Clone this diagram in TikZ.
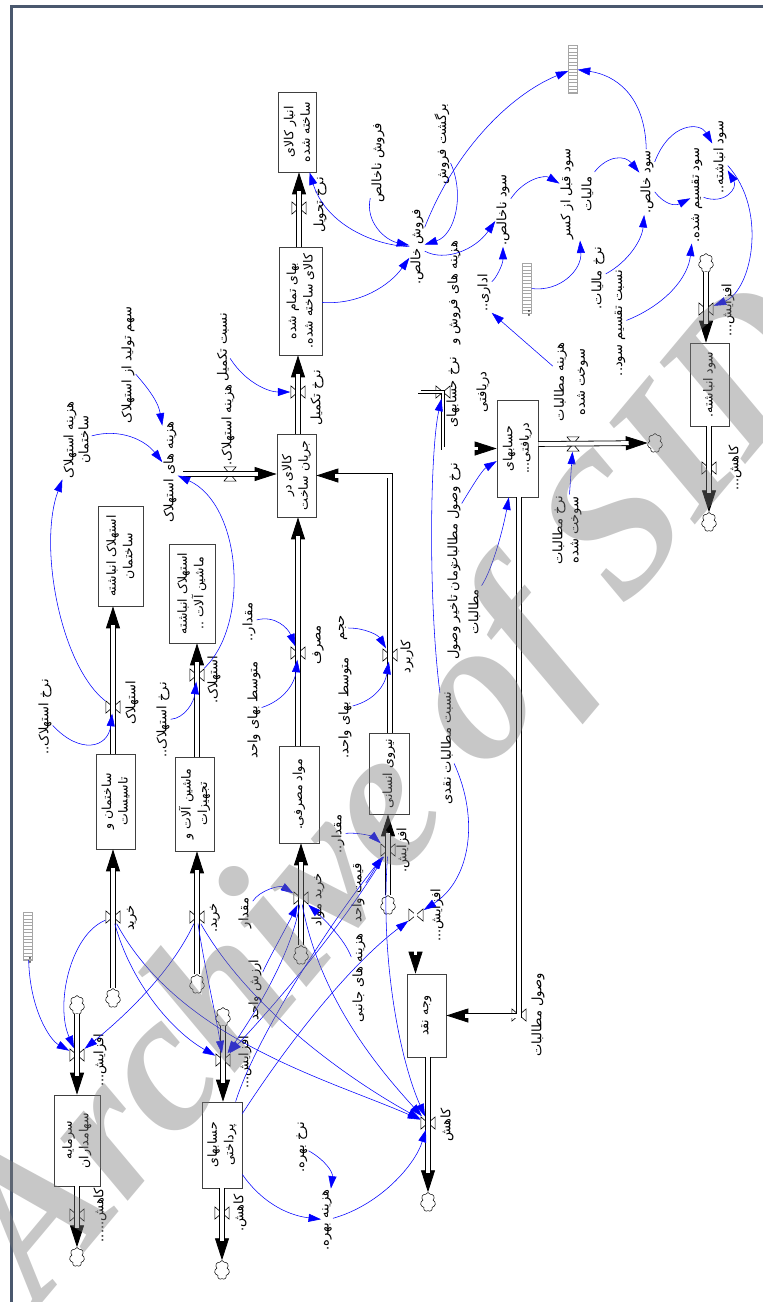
\documentclass[tikz,border=0pt]{standalone}
\usepackage{fontspec}
\newfontfamily\farsi[Script=Arabic]{DejaVu Sans}
\newfontfamily\wmfont{Liberation Serif}
\TeXXeTstate=1
\usetikzlibrary{arrows.meta,shapes.symbols}
\definecolor{framec}{RGB}{74,88,110}
\newcommand\fa[1]{\beginR#1\endR}
\newcommand\pipeto[2][pipe]{\draw[pipetip] #2; \draw[#1, shorten >=19pt] #2;}

\tikzset{
  stock/.style={draw=black!75, line width=0.7pt, rotate=90, inner sep=1pt, align=center,
    font=\farsi\fontsize{12.5}{16.5}\selectfont},
  aux/.style={rotate=90, inner sep=1pt, align=center, font=\farsi\fontsize{13}{21}\selectfont},
  pipe/.style={draw=black, line width=0.8pt, double=white, double distance=4pt},
  npipe/.style={pipe, line width=0.6pt, double distance=2.2pt},
  pipetip/.style={draw=black, line width=0.8pt, -{Triangle[length=22pt,width=14pt]}},
  link/.style={draw=blue, line width=0.55pt, -{Triangle[length=12.5pt,width=8pt]}},
  valv/.style={minimum width=15pt, minimum height=13pt, inner sep=0pt,
    path picture={\draw[line width=0.6pt]
      ([shift={(0.4pt,-0.4pt)}]path picture bounding box.north west) --
      ([shift={(-0.4pt,0.4pt)}]path picture bounding box.south east) --
      ([shift={(-0.4pt,-0.4pt)}]path picture bounding box.north east) --
      ([shift={(0.4pt,0.4pt)}]path picture bounding box.south west) -- cycle;}},
  valh/.style={minimum width=13pt, minimum height=15pt, inner sep=0pt,
    path picture={\draw[line width=0.6pt]
      ([shift={(0.4pt,-0.4pt)}]path picture bounding box.north west) --
      ([shift={(-0.4pt,-0.4pt)}]path picture bounding box.north east) --
      ([shift={(0.4pt,0.4pt)}]path picture bounding box.south west) --
      ([shift={(-0.4pt,0.4pt)}]path picture bounding box.south east) -- cycle;}},
  sink/.style={cloud, cloud puffs=7, cloud ignores aspect, draw, line width=0.5pt,
    minimum width=15pt, minimum height=19pt, inner sep=0pt},
  tofu/.style={draw=gray!70, line width=0.4pt, minimum width=9pt, minimum height=#1, inner sep=0pt,
    path picture={\foreach \k in {1,...,15}{\draw[gray!70, line width=0.3pt]
      ([yshift=-\k*3.4pt]path picture bounding box.north west) --
      ([yshift=-\k*3.4pt]path picture bounding box.north east);}}},
}

\begin{document}
\begin{tikzpicture}[x=1pt, y=-1pt]
\useasboundingbox (0,0) rectangle (763,1302);
\draw[framec, line width=3pt] (11,1302) -- (11,6) -- (763,6);

% stocks
\node[stock, minimum width=80pt, minimum height=38pt] (anbar) at (297,132) {\fa{انبار کالای}\\\fa{ساخته شده}};
\node[stock, minimum width=108pt, minimum height=43pt] (bahaa) at (300.5,301) {\fa{بهای تمام شده}\\\fa{کالای ساخته شده.}};
\node[stock, minimum width=83pt, minimum height=39pt] (jarian) at (296.5,475.5) {\fa{کالای در}\\\fa{جریان ساخت}};
\node[stock, minimum width=97pt, minimum height=41pt] (daryafti) at (517.5,448.5) {\fa{حسابهای}\\\fa{دریافتی...}};
\node[stock, minimum width=83pt, minimum height=39pt] (soodanb) at (709.5,384.5) {\fa{سود انباشته.}};
\node[stock, minimum width=100pt, minimum height=45pt] (estbuild) at (120.5,556) {\fa{استهلاک انباشته}\\\fa{ساختمان}};
\node[stock, minimum width=99pt, minimum height=46pt] (estmach) at (192,593.5) {\fa{استهلاک انباشته}\\\fa{ماشین آلات ..}};
\node[stock, minimum width=95pt, minimum height=39pt] (build) at (115.5,801.5) {\fa{ساختمان و}\\\fa{تاسیسات}};
\node[stock, minimum width=94pt, minimum height=39pt] (mach) at (194.5,804) {\fa{ماشین آلات و}\\\fa{تجهیزات}};
\node[stock, minimum width=97pt, minimum height=40pt] (mavad) at (299,794.5) {\fa{مواد مصرفی.}};
\node[stock, minimum width=81pt, minimum height=40pt] (niroo) at (389,773.5) {\fa{نیروی انسانی}};
\node[stock, minimum width=83pt, minimum height=39pt] (cash) at (426.5,1015.5) {\fa{وجه نقد}};
\node[stock, minimum width=91pt, minimum height=46pt] (sarmaye) at (77,1140.5) {\fa{سرمایه}\\\fa{سهامداران}};
\node[stock, minimum width=86pt, minimum height=40pt] (pardakhti) at (222,1145) {\fa{حسابهای}\\\fa{پرداختی}};

% clouds
\node[sink] (csarin) at (77,1005) {};
\node[sink] (csarout) at (77,1257) {};
\node[sink] (cpardin) at (223,1017) {};
\node[sink] (cpardout) at (222,1270) {};
\node[sink] (cbuild) at (113,998) {};
\node[sink] (cmach) at (197,984) {};
\node[sink] (cmavad) at (301,955) {};
\node[sink] (cniroo) at (388,905) {};
\node[sink] (ccash) at (428,1202) {};
\node[sink] (csookht) at (655,443) {};
\node[sink] (csoodin) at (706,263) {};
\node[sink] (csoodout) at (709,522) {};

% valves
\node[valv] (vtahvil) at (299,208) {};
\node[valv] (vtakmil) at (298,392) {};
\node[valh] (vhazest) at (230,474) {};
\node[valv] (vkarbord) at (390,655) {};
\node[valv] (vmasraf) at (298,653) {};
\node[valv] (vmavad) at (301,898) {};
\node[valv] (vniroo) at (388,850) {};
\node[valv] (vbuild) at (113,917) {};
\node[valv] (vmach) at (197,917) {};
\node[valv] (vestb) at (113,707) {};
\node[valv] (vestm) at (197,675) {};
\node[valv] (vsarin) at (77,1055) {};
\node[valv] (vsarout) at (77,1215) {};
\node[valv] (vpardin) at (223,1060) {};
\node[valv] (vpardout) at (222,1213) {};
\node[valv] (vcashin) at (416,915) {};
\node[valv] (vcashout) at (428,1123) {};
\node[valv] (vfd) at (443,392) {};
\node[valv] (vvosool) at (519,1015) {};
\node[valh] (vsookht) at (573,444) {};
\node[valv] (vsoodin) at (706,309) {};
\node[valv] (vsoodout) at (709,468) {};
\coordinate (hazsrc) at (183,474);
\coordinate (fksrc) at (415.5,288);
\coordinate (fdsrc) at (419.5,288);

% pipes
\pipeto{(bahaa.east -| vtahvil) -- (anbar.west -| vtahvil)}
\pipeto{(jarian.east -| vtakmil) -- (bahaa.west -| vtakmil)}
\pipeto{(hazsrc) -- (jarian.north |- vhazest)}
\pipeto{(niroo.east -| vkarbord) |- (jarian.south)}
\pipeto{(mavad.east -| vmasraf) -- (jarian.west -| vmasraf)}
\pipeto{(cmavad.north) -- (mavad.west -| vmavad)}
\pipeto{(cniroo.north) -- (niroo.west -| vniroo)}
\pipeto{(cbuild.north) -- (build.west -| vbuild)}
\pipeto{(cmach.north) -- (mach.west -| vmach)}
\pipeto{(build.east -| vestb) -- (estbuild.west -| vestb)}
\pipeto{(mach.east -| vestm) -- (estmach.west -| vestm)}
\pipeto{(csarin.south) -- (sarmaye.east -| vsarin)}
\pipeto{(sarmaye.west -| vsarout) -- (csarout.north)}
\pipeto{(cpardin.south) -- (pardakhti.east -| vpardin)}
\pipeto{(pardakhti.west -| vpardout) -- (cpardout.north)}
\pipeto[npipe]{(fksrc) -- (cash.east -| fksrc)}
\pipeto[npipe]{(fdsrc) |- (vfd.center) |- (daryafti.north)}
\pipeto{(daryafti.west -| vvosool) |- (cash.south)}
\pipeto{(cash.west -| vcashout) -- (ccash.north)}
\pipeto{(daryafti.south |- vsookht) -- (csookht.west)}
\pipeto{(csoodin.south) -- (soodanb.east -| vsoodin)}
\pipeto{(soodanb.west -| vsoodout) -- (csoodout.north)}

% flow names
\node[aux] (ltahvil) at (320,205) {\fa{نرخ تحویل}};
\node[aux] (ltakmil) at (317,398) {\fa{نرخ تکمیل}};
\node[aux] (lhazest) at (228,425) {\fa{هزینه استهلاک.}};
\node[aux] (lkarbord) at (407,657) {\fa{کاربرد}};
\node[aux] (lmasraf) at (318,645) {\fa{مصرف}};
\node[aux] (lkharidm) at (318,900) {\fa{خرید مواد}};
\node[aux] (lafzn) at (403,850) {\fa{افزایش.}};
\node[aux] (lkharidb) at (132,918) {\fa{خرید}};
\node[aux] (lkharidma) at (215,918) {\fa{خرید.}};
\node[aux] (lestb) at (132,703) {\fa{استهلاک}};
\node[aux] (lestm) at (214,680) {\fa{استهلاک.}};
\node[aux] (lafzs) at (100,1060) {\fa{افزایش...}};
\node[aux] (lkahs) at (100,1215) {\fa{کاهش.....}};
\node[aux] (lafzp) at (245,1062) {\fa{افزایش...}};
\node[aux] (lkahp) at (240,1213) {\fa{کاهش.}};
\node[aux] (lafzc) at (437,915) {\fa{افزایش...}};
\node[aux] (lkahc) at (447,1125) {\fa{کاهش}};
\node[aux] (lvosool) at (538,1015) {\fa{وصول مطالبات}};
\node[aux] (lnhd) at (468,392) {\fa{نرخ حسابهای}\\[9pt]\fa{دریافتی}};
\node[aux] (lafzsood) at (728,310) {\fa{افزایش...}};
\node[aux] (lkahsood) at (735,468) {\fa{کاهش...}};

% auxiliaries
\node[aux] (fnakh) at (378,163) {\fa{فروش ناخالص}};
\node[aux] (bargasht) at (442,144) {\fa{برگشت فروش}};
\node[aux] (fkhales) at (417,247) {\fa{فروش خالص.}};
\node[aux] (snakh) at (503,210) {\fa{سود ناخالص.}};
\node[aux] (hfrsh) at (469,293) {\fa{هزینه های فروش و}\\[9pt]\fa{اداری..}};
\node[aux] (sghabl) at (577,194) {\fa{سود قبل از کسر}\\\fa{مالیات}};
\node[aux] (skhales) at (647,182) {\fa{سود خالص.}};
\node[aux] (staghsim) at (697,195) {\fa{سود تقسیم شده.}};
\node[aux] (sanbaux) at (720,157) {\fa{سود انباشته..}};
\node[tofu=48pt] (tofua) at (573,69) {};
\node[tofu=50pt, label={[aux]south:..}] (tofub) at (527,288) {};
\node[tofu=48pt, label={[aux]south:..}] (tofuc) at (28,936) {};
\node[aux] (nmaliat) at (598,278) {\fa{نرخ مالیات.}};
\node[aux] (ntaghsim) at (620,323) {\fa{نسبت تقسیم سود..}};
\node[aux] (hsookht) at (571,382) {\fa{هزینه مطالبات}\\\fa{سوخت شده}};
\node[aux] (nsookht) at (567,530) {\fa{نرخ مطالبات}\\[-5pt]\fa{سوخت شده}};
\node[aux] (nvosool) at (454,516) {\fa{نرخ وصول مطالبات}};
\node[aux] (ztakhir) at (464,612) {\fa{زمان تاخیر وصول}\\\fa{مطالبات}};
\node[aux] (nnaghdi) at (447,748) {\fa{نسبت مطالبات نقدی}};
\node[aux] (sahm) at (128,365) {\fa{سهم تولید از استهلاک}};
\node[aux] (hestb) at (77,440) {\fa{هزینه استهلاک}\\[-6pt]\fa{ساختمان}};
\node[aux] (hhest) at (170,472) {\fa{هزینه های استهلاک}};
\node[aux] (ntakmil) at (223,347) {\fa{نسبت تکمیل}};
\node[aux] (nestb) at (45,717) {\fa{نرخ استهلاک..}};
\node[aux] (nestm) at (163,720) {\fa{نرخ استهلاک..}};
\node[aux] (mqmasraf) at (249,622) {\fa{مقدار..}};
\node[aux] (mtv1) at (254,710) {\fa{متوسط بهای واحد}};
\node[aux] (hajm) at (343,628) {\fa{حجم}};
\node[aux] (mtv2) at (345,708) {\fa{متوسط بهای واحد.}};
\node[aux] (mqniroo) at (338,834) {\fa{مقدار..}};
\node[aux] (gheymat) at (358,893) {\fa{قیمت واحد}};
\node[aux] (hjanebi) at (359,978) {\fa{هزینه های جانبی}};
\node[aux] (mqmach) at (245,913) {\fa{مقدار}};
\node[aux] (arzesh) at (255,990) {\fa{ارزش واحد}};
\node[aux] (nbahre) at (302,1147) {\fa{نرخ بهره.}};
\node[aux] (hbahre) at (327,1220) {\fa{هزینه بهره.}};

% links
\draw[link] (bahaa) .. controls (360,305) and (390,285) .. (fkhales);
\draw[link] (fkhales) .. controls (370,245) and (325,222) .. (anbar);
\draw[link] (fnakh) .. controls (365,222) and (385,240) .. (fkhales);
\draw[link] (bargasht) .. controls (465,195) and (455,235) .. (fkhales);
\draw[link] (fkhales) .. controls (455,150) and (510,95) .. (tofua);
\draw[link] (fkhales) .. controls (445,262) and (475,250) .. (snakh);
\draw[link] (hfrsh) .. controls (495,280) and (503,265) .. (snakh);
\draw[link] (hsookht) -- (hfrsh);
\draw[link] (snakh) .. controls (525,178) and (545,175) .. (sghabl);
\draw[link] (tofub) .. controls (560,292) and (582,270) .. (sghabl);
\draw[link] (sghabl) .. controls (608,155) and (625,155) .. (skhales);
\draw[link] (nmaliat) .. controls (628,262) and (642,240) .. (skhales);
\draw[link] (skhales) .. controls (645,95) and (615,75) .. (tofua);
\draw[link] (skhales) .. controls (670,122) and (700,122) .. (sanbaux);
\draw[link] (skhales) .. controls (665,205) and (675,206) .. (staghsim);
\draw[link] (staghsim) .. controls (725,205) and (738,188) .. (sanbaux);
\draw[link] (sanbaux) .. controls (768,210) and (752,290) .. (vsoodin);
\draw[link] (ntaghsim) .. controls (665,305) and (688,278) .. (staghsim);
\draw[link] (sahm) .. controls (145,385) and (158,400) .. (hhest);
\draw[link] (hestb) .. controls (120,428) and (145,440) .. (hhest);
\draw[link] (vestb) .. controls (60,665) and (38,545) .. (hestb);
\draw[link] (vestm) .. controls (250,625) and (242,505) .. (hhest);
\draw[link] (nestb) .. controls (80,755) and (108,748) .. (vestb);
\draw[link] (nestm) .. controls (185,718) and (194,702) .. (vestm);
\draw[link] (ntakmil) .. controls (245,382) and (268,392) .. (vtakmil);
\draw[link] (mqmasraf) .. controls (275,615) and (288,628) .. (vmasraf);
\draw[link] (mtv1) .. controls (285,700) and (295,682) .. (vmasraf);
\draw[link] (hajm) .. controls (365,628) and (378,635) .. (vkarbord);
\draw[link] (mtv2) .. controls (375,700) and (385,685) .. (vkarbord);
\draw[link] (mqniroo) .. controls (362,832) and (375,838) .. (vniroo);
\draw[link] (nvosool) .. controls (470,490) and (482,470) .. (daryafti);
\draw[link] (ztakhir) .. controls (492,570) and (503,530) .. (daryafti);
\draw[link] (nnaghdi) .. controls (480,820) and (470,880) .. (vcashin);
\draw[link] (nnaghdi) .. controls (428,600) and (430,450) .. (vfd);
\draw[link] (nsookht) -- (vsookht);
\draw[link] (nbahre) .. controls (325,1160) and (333,1172) .. (hbahre);
\draw[link] (pardakhti) .. controls (260,1200) and (285,1215) .. (hbahre);
\draw[link] (hbahre) .. controls (380,1205) and (415,1165) .. (vcashout);
\draw[link] (pardakhti) .. controls (290,1040) and (350,965) .. (vcashin);
\draw[link] (pardakhti) .. controls (255,1040) and (325,930) .. (vniroo);
\draw[link] (tofuc) .. controls (30,1010) and (50,1040) .. (vsarin);
\draw[link] (vbuild) .. controls (70,935) and (55,1005) .. (vsarin);
\draw[link] (vmach) .. controls (170,975) and (120,1020) .. (vsarin);
\draw[link] (vbuild) .. controls (130,980) and (170,1030) .. (vpardin);
\draw[link] (vmach) .. controls (205,970) and (215,1010) .. (vpardin);
\draw[link] (vmavad) .. controls (290,960) and (250,1020) .. (vpardin);
\draw[link] (vniroo) .. controls (340,930) and (270,1010) .. (vpardin);
\draw[link] (vbuild) .. controls (180,1040) and (330,1080) .. (vcashout);
\draw[link] (vmach) .. controls (250,1010) and (350,1080) .. (vcashout);
\draw[link] (vmavad) .. controls (320,1000) and (380,1070) .. (vcashout);
\draw[link] (vniroo) .. controls (380,960) and (400,1060) .. (vcashout);
\draw[link] (mqmach) .. controls (260,890) and (280,885) .. (vmavad);
\draw[link] (arzesh) .. controls (268,960) and (285,930) .. (vmavad);
\draw[link] (hjanebi) .. controls (345,940) and (325,920) .. (vmavad);
\draw[link] (gheymat) .. controls (368,880) and (375,868) .. (vniroo);

% watermark over the drawing
\node[rotate=50, text=black!52, text opacity=0.42, inner sep=0pt,
  font=\wmfont\bfseries\itshape\fontsize{200}{200}\selectfont] (wm) at (402,798) {Archive of SID};
\end{tikzpicture}
\end{document}
